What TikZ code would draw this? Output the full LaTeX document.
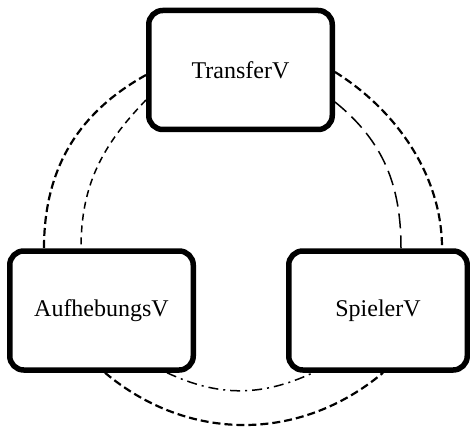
\documentclass[tikz,border=0pt]{standalone}
\usepackage{fontspec}
\setmainfont{Liberation Serif}
\begin{document}
\begin{tikzpicture}[x=1pt,y=1pt,
  box/.style={draw, line width=5.5pt, rounded corners=14pt, minimum width=183.5pt,
    minimum height=119pt, inner sep=0pt, font=\fontsize{24}{28}\selectfont},
  outerdash/.style={line width=2.2pt, dash pattern=on 8pt off 4pt},
  innerdash/.style={line width=1.5pt, dash pattern=on 7pt off 5pt},
  longdash/.style={line width=1.5pt, dash pattern=on 15pt off 7pt},
  dashdot/.style={line width=1.5pt, dash pattern=on 10pt off 5pt on 2pt off 5pt}]
\useasboundingbox (0,0) rectangle (470,426);
\node[box] (T) at (240.5,356) {TransferV};
\node[box] (A) at (101.5,115.5) {AufhebungsV};
\node[box, minimum width=178.5pt] (S) at (378,115.5) {SpielerV};
\draw[outerdash] ([yshift=-5pt]T.west) to[out=209,in=90] ([xshift=-57.5pt]A.north);
\draw[innerdash] ([yshift=-30pt]T.west) to[out=226,in=90] ([xshift=-20.5pt]A.north);
\draw[outerdash] ([yshift=-2pt]T.east) to[out=328,in=90,looseness=0.9] ([xshift=64pt]S.north);
\draw[longdash] ([yshift=-32pt]T.east) to[out=321,in=90] ([xshift=23pt]S.north);
\draw[outerdash] ([xshift=3.5pt]A.south) to[out=320,in=220] ([xshift=5pt]S.south);
\draw[dashdot] ([xshift=65.5pt]A.south) to[out=335,in=205] ([xshift=-65pt]S.south);
\end{tikzpicture}
\end{document}
